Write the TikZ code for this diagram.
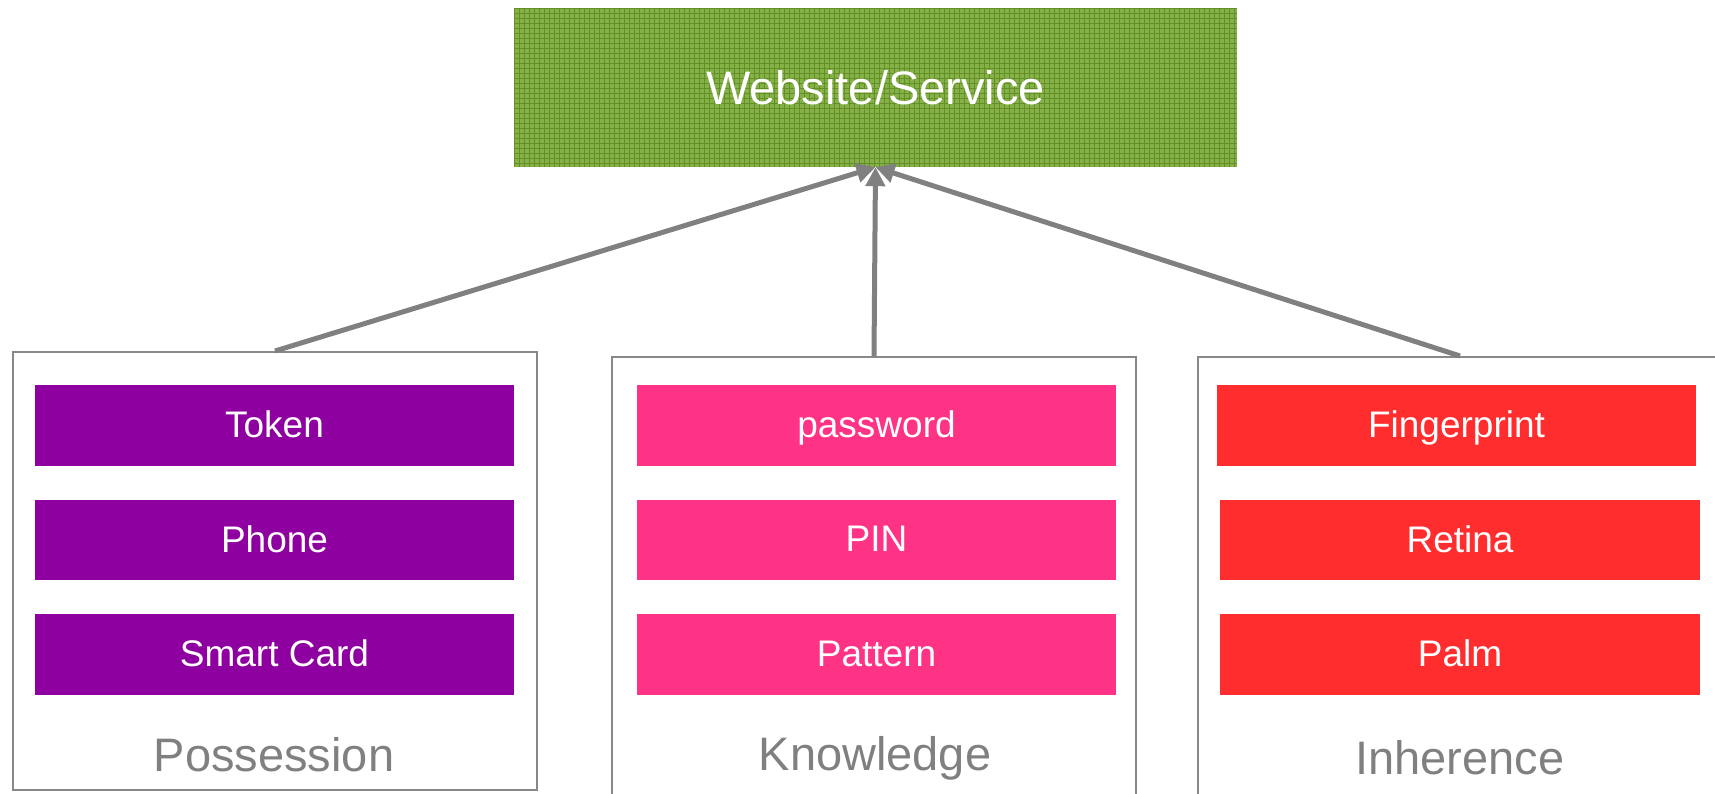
\documentclass[tikz,border=0pt]{standalone}
\usepackage{fontspec}
\setmainfont{Liberation Sans}
\usetikzlibrary{arrows.meta}
\definecolor{webgreen}{RGB}{134,176,72}
\definecolor{gridgreen}{RGB}{98,144,38}
\definecolor{purp}{RGB}{142,0,160}
\definecolor{pinkk}{RGB}{255,51,133}
\definecolor{redd}{RGB}{255,45,45}
\definecolor{greyline}{RGB}{128,128,128}
\definecolor{greyframe}{RGB}{136,136,136}
\tikzset{
  container/.style={draw=greyframe, line width=2pt, inner sep=0pt},
  itembox/.style={inner sep=0pt, text=white, font=\fontsize{37}{44}\selectfont, text depth=2pt},
  grouplabel/.style={text=greyline, font=\fontsize{47}{56}\selectfont, inner sep=0pt},
  toplabel/.style={text=white, font=\fontsize{47}{56}\selectfont, inner sep=0pt,
    minimum width=723pt, minimum height=159pt},
  connector/.style={draw=greyline, line width=5pt, -{Triangle[length=19pt,width=19pt]}}
}
\begin{document}
\begin{tikzpicture}[x=1pt,y=-1pt]
\useasboundingbox (0,0) rectangle (1715,794);
% top box with grid texture
\fill[webgreen] (514,8) rectangle (1237,167);
\foreach \i in {514,519,...,1237} \draw[gridgreen, line width=0.7pt] (\i,8) -- (\i,167);
\foreach \j in {8,13,...,167} \draw[gridgreen, line width=0.7pt] (514,\j) -- (1237,\j);
\node[toplabel] (top) at (875.5,87.5) {Website/Service};
% containers
\node[container, minimum width=524pt, minimum height=438pt] (poss) at (275,571) {};
\node[container, minimum width=524pt, minimum height=440pt] (know) at (874,577) {};
\node[container, minimum width=524pt, minimum height=440pt] (inh) at (1460,577) {};
% items
\node[itembox, fill=purp, minimum width=479pt, minimum height=81pt] (token) at (274.5,425.5) {Token};
\node[itembox, fill=purp, minimum width=479pt, minimum height=80pt] (phone) at (274.5,540) {Phone};
\node[itembox, fill=purp, minimum width=479pt, minimum height=81pt] (card) at (274.5,654.5) {Smart Card};
\node[itembox, fill=pinkk, minimum width=479pt, minimum height=81pt] (pwd) at (876.5,425.5) {password};
\node[itembox, fill=pinkk, minimum width=479pt, minimum height=80pt] (pin) at (876.5,540) {PIN};
\node[itembox, fill=pinkk, minimum width=479pt, minimum height=81pt] (pat) at (876.5,654.5) {Pattern};
\node[itembox, fill=redd, minimum width=479pt, minimum height=81pt] (finger) at (1456.5,425.5) {Fingerprint};
\node[itembox, fill=redd, minimum width=480pt, minimum height=80pt] (retina) at (1460,540) {Retina};
\node[itembox, fill=redd, minimum width=480pt, minimum height=81pt] (palm) at (1460,654.5) {Palm};
% group labels
\node[grouplabel] (lposs) at (274,755) {Possession};
\node[grouplabel] (lknow) at (875,758) {Knowledge};
\node[grouplabel] (linh) at (1460,758) {Inherence};
% connectors
\draw[connector] (poss.north) -- (top.south);
\draw[connector] (know.north) -- (top.south);
\draw[connector] (inh.north) -- (top.south);
\end{tikzpicture}
\end{document}
